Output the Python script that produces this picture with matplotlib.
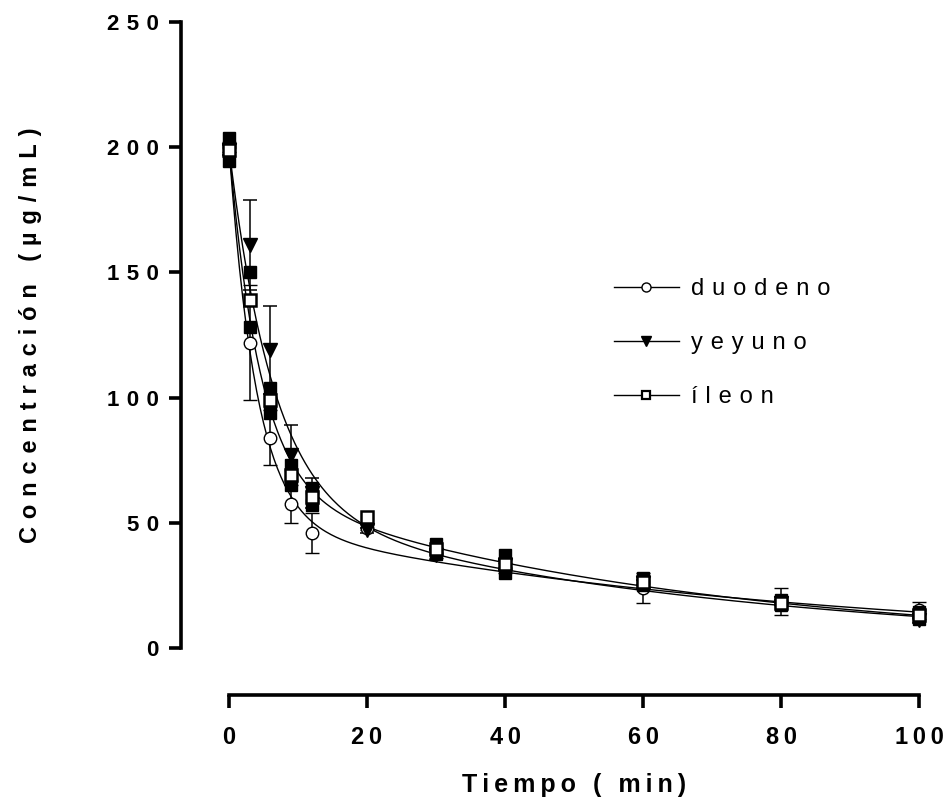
import numpy as np
import matplotlib
matplotlib.use('Agg')
import matplotlib.pyplot as plt
from matplotlib.ticker import FuncFormatter
from matplotlib.lines import Line2D

plt.rcParams['font.family'] = ['Liberation Sans', 'DejaVu Sans']

# --- data ---
tiempo = [0, 3, 6, 9, 12, 20, 30, 40, 60, 80, 100]

duodeno = [200, 122, 84, 57.5, 46, 48, 38, 32, 24, 18.5, 15]
duodeno_err = [2, 23, 11, 7.5, 8, 1, 2, 2, 6, 5.5, 3.5]

yeyuno = [199, 161, 119, 77, 62, 47, 37, 33, 26, 18, 11]
yeyuno_err = [2, 18, 17.5, 12, 6, 1, 2, 2, 1, 1, 1]

ileon = [199, 139, 99, 69, 60.5, 52.5, 39.5, 33.5, 26.5, 18, 13]
ileon_err = [4.5, 11, 5, 4, 3.5, np.nan, 2, 3.5, 1.5, 1, 1.5]

# biexponential fit parameters (A, alpha, B, beta)
fit_duodeno = (150, 0.25, 50, 0.0125)
fit_yeyuno = (143, 0.155, 56.8, 0.0151)
fit_ileon = (135.5, 0.22, 64.5, 0.016)

legend_labels = ['duodeno', 'yeyuno', 'íleon']


def track(s, gap='\u2009'):
    return gap.join(list(s))


def biexp(t, p):
    A, a, B, b = p
    return A * np.exp(-a * t) + B * np.exp(-b * t)


fig = plt.figure(figsize=(9.46, 8.05), dpi=100)
ax = fig.add_axes([229/946, 157/805, 690/946, 626/805])
ax.set_xlim(0, 100)
ax.set_ylim(0, 250)

t = np.linspace(0, 100, 400)
for p in (fit_duodeno, fit_yeyuno, fit_ileon):
    ax.plot(t, biexp(t, p), color='black', lw=1.0, zorder=2)

ax.errorbar(tiempo, duodeno, yerr=duodeno_err, fmt='o', ms=9, mfc='white',
            mec='black', mew=1.0, ecolor='black', elinewidth=1.1,
            capsize=5, capthick=1.1, clip_on=False, zorder=4)
ax.errorbar(tiempo, yeyuno, yerr=yeyuno_err, fmt='v', ms=9.5, mfc='black',
            mec='black', ecolor='black', elinewidth=1.1,
            capsize=5, capthick=1.1, clip_on=False, zorder=4)

# íleon: open squares, error ends drawn as filled squares
ile = np.array(ileon)
ile_e = np.array(ileon_err)
ok = np.isfinite(ile_e)
tt = np.array(tiempo)
ax.plot(tt[ok], (ile + ile_e)[ok], 's', ms=8, color='black', clip_on=False, zorder=5)
ax.plot(tt[ok], (ile - ile_e)[ok], 's', ms=8, color='black', clip_on=False, zorder=5)
ax.plot(tiempo, ileon, 's', ms=8, mfc='white', mec='black', mew=1.8,
        clip_on=False, zorder=6)

# axes style
for s in ('top', 'right'):
    ax.spines[s].set_visible(False)
ax.spines['left'].set_position(('outward', 34.5))
ax.spines['bottom'].set_position(('outward', 34))
ax.spines['left'].set_bounds(0, 250)
ax.spines['bottom'].set_bounds(0, 100)
for s in ('left', 'bottom'):
    ax.spines[s].set_linewidth(2.6)
    ax.spines[s].set_capstyle('projecting')

ax.set_xticks([0, 20, 40, 60, 80, 100])
ax.set_yticks([0, 50, 100, 150, 200, 250])
ax.tick_params(axis='both', direction='out', length=9, width=2.6)
ax.tick_params(axis='y', pad=7)
ax.tick_params(axis='x', pad=13)
ax.xaxis.set_major_formatter(FuncFormatter(lambda v, pos: track('%d' % v, '\u2009')))
ax.yaxis.set_major_formatter(FuncFormatter(lambda v, pos: track('%d' % v, '\u2004')))
for lab in ax.get_yticklabels():
    lab.set_fontsize(16)
    lab.set_fontweight('bold')
for lab in ax.get_xticklabels():
    lab.set_fontsize(17)
    lab.set_fontweight('bold')

fig.text(574/946, 1 - 785/805, track('Tiempo ( min)', '\u2009'), ha='center', va='center',
         fontsize=18, fontweight='bold')
fig.text(31/946, 1 - 335/805, track('Concentración (µg/mL)', '\u2004'), ha='center',
         va='center', rotation=90, fontsize=17, fontweight='bold')

# legend
handles = [
    Line2D([], [], color='black', lw=1.0, marker='o', ms=6.5, mfc='white', mec='black'),
    Line2D([], [], color='black', lw=1.0, marker='v', ms=7.5, mfc='black', mec='black'),
    Line2D([], [], color='black', lw=1.0, marker='s', ms=6, mfc='white', mec='black', mew=1.6),
]
fig.legend(handles, [track(l, '\u2004') for l in legend_labels], loc='upper left',
           bbox_to_anchor=(614/946, 1 - 278/805), frameon=False, fontsize=17,
           handlelength=2.75, handletextpad=0.5, labelspacing=1.36, borderpad=0,
           borderaxespad=0)

fig.savefig('out.png', dpi=100)
